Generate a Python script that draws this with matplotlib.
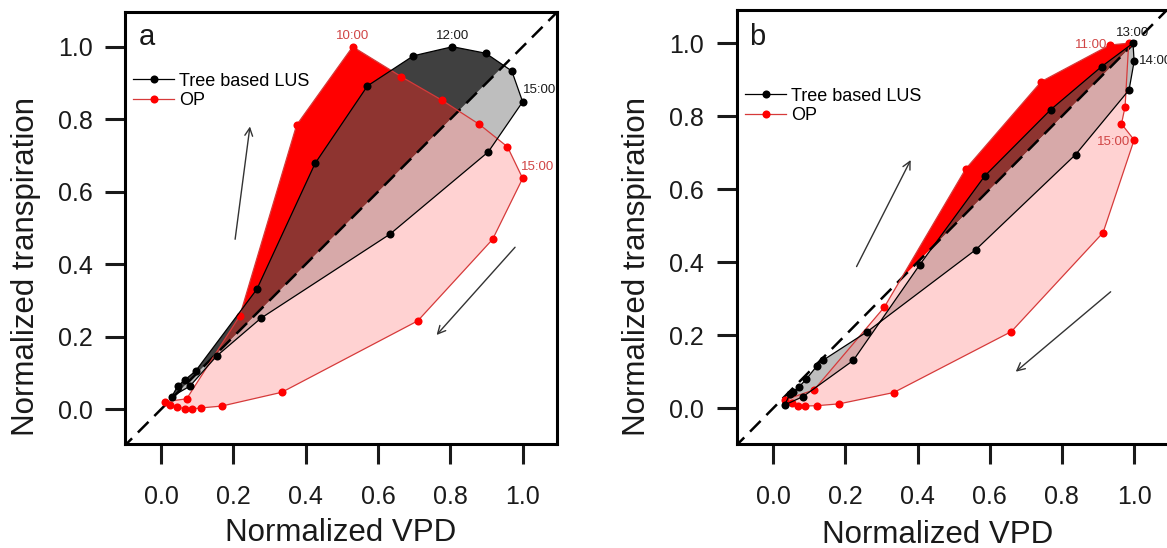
import matplotlib
matplotlib.use('Agg')
import matplotlib.pyplot as plt
import numpy as np
from matplotlib.patches import Polygon
from matplotlib.lines import Line2D

plt.rcParams['font.family'] = ['Liberation Sans', 'DejaVu Sans']


# ------------------------------------ Data ------------------------------------

# Panel a - daily loops (hourly), normalized VPD vs normalized transpiration
a_lus_vpd = [0.030, 0.046, 0.066, 0.096, 0.265, 0.426, 0.571, 0.698, 0.806,
             0.898, 0.970, 1.000, 0.905, 0.633, 0.276, 0.154, 0.080]
a_lus_tr = [0.035, 0.064, 0.081, 0.106, 0.331, 0.678, 0.892, 0.975, 1.000,
            0.982, 0.933, 0.848, 0.710, 0.483, 0.251, 0.147, 0.064]

a_op_vpd = [0.011, 0.071, 0.218, 0.375, 0.530, 0.665, 0.776, 0.880, 0.958, 1.000,
            0.917, 0.710, 0.334, 0.168, 0.112, 0.085, 0.066, 0.043, 0.025]
a_op_tr = [0.021, 0.029, 0.258, 0.784, 1.000, 0.917, 0.853, 0.786, 0.724, 0.637,
           0.469, 0.244, 0.047, 0.009, 0.004, 0.001, 0.002, 0.006, 0.012]

# Panel b
b_lus_vpd = [0.032, 0.083, 0.222, 0.406, 0.586, 0.769, 0.910, 0.997, 1.000, 0.986,
             0.838, 0.561, 0.261, 0.139, 0.122, 0.092, 0.072, 0.055, 0.046]
b_lus_tr = [0.009, 0.032, 0.131, 0.393, 0.636, 0.818, 0.936, 1.000, 0.950, 0.872,
            0.695, 0.434, 0.210, 0.132, 0.117, 0.080, 0.059, 0.044, 0.038]

b_op_vpd = [0.032, 0.113, 0.308, 0.533, 0.743, 0.933, 0.985, 0.975, 0.965, 1.000,
            0.914, 0.660, 0.334, 0.183, 0.122, 0.088, 0.069, 0.051]
b_op_tr = [0.023, 0.050, 0.277, 0.655, 0.895, 0.995, 1.000, 0.826, 0.779, 0.735,
           0.481, 0.210, 0.043, 0.012, 0.007, 0.006, 0.007, 0.014]

ticks = [0.0, 0.2, 0.4, 0.6, 0.8, 1.0]
tick_labels = ['0.0', '0.2', '0.4', '0.6', '0.8', '1.0']


# ----------------------------------- Colours -----------------------------------

RED = '#FF0000'
RED_LINE = '#D63A3A'
PINK = '#FFD2D2'
DGRAY = '#404040'
LGRAY = '#BEBEBE'
BROWN = '#8E3430'
PINKGRAY = '#D7A9A9'
TXT = '#1a1a1a'


# split a loop polygon into the part above (upper) or below the 1:1 line
def half_plane(xs, ys, upper):
    pts = list(zip(xs, ys))
    side = (lambda p: p[1] - p[0]) if upper else (lambda p: p[0] - p[1])
    out = []
    for i in range(len(pts)):
        p, q = pts[i], pts[(i + 1) % len(pts)]
        sp, sq = side(p), side(q)
        if sp >= 0:
            out.append(p)
        if sp * sq < 0:
            t = sp / (sp - sq)
            out.append((p[0] + t * (q[0] - p[0]), p[1] + t * (q[1] - p[1])))
    return np.array(out)


def draw_panel(ax, lus_x, lus_y, op_x, op_y, xlim, ylim):
    ax.set_xlim(*xlim)
    ax.set_ylim(*ylim)

    # filled loops, dark above the 1:1 line and light below it
    op_up, op_lo = half_plane(op_x, op_y, True), half_plane(op_x, op_y, False)
    lus_up, lus_lo = half_plane(lus_x, lus_y, True), half_plane(lus_x, lus_y, False)
    op_pts = np.column_stack([op_x, op_y])

    ax.fill(op_lo[:, 0], op_lo[:, 1], color=PINK, lw=0, zorder=1)
    ax.fill(lus_lo[:, 0], lus_lo[:, 1], color=LGRAY, lw=0, zorder=1)
    over = ax.fill(lus_lo[:, 0], lus_lo[:, 1], color=PINKGRAY, lw=0, zorder=1.1)[0]
    over.set_clip_path(Polygon(op_pts, closed=True, transform=ax.transData))

    ax.fill(op_up[:, 0], op_up[:, 1], color=RED, lw=0, zorder=1)
    ax.fill(lus_up[:, 0], lus_up[:, 1], color=DGRAY, lw=0, zorder=1)
    over = ax.fill(lus_up[:, 0], lus_up[:, 1], color=BROWN, lw=0, zorder=1.1)[0]
    over.set_clip_path(Polygon(op_pts, closed=True, transform=ax.transData))

    # 1:1 line
    ax.plot([-0.2, 1.2], [-0.2, 1.2], color='black', lw=1.8, dashes=(6, 3.3), zorder=2)

    # loop outlines and hourly points
    ax.plot(op_x + op_x[:1], op_y + op_y[:1], color=RED_LINE, lw=0.9, zorder=3)
    ax.plot(op_x, op_y, 'o', color=RED, ms=5.8, mec='none', zorder=4)
    ax.plot(lus_x + lus_x[:1], lus_y + lus_y[:1], color='black', lw=0.9, zorder=5)
    ax.plot(lus_x, lus_y, 'o', color='black', ms=5.8, mec='none', zorder=6)

    ax.set_xticks(ticks)
    ax.set_xticklabels(tick_labels)
    ax.set_yticks(ticks)
    ax.set_yticklabels(tick_labels)
    ax.tick_params(length=14.4, width=2.2, labelsize=18, colors=TXT)
    ax.tick_params(axis='x', pad=15)
    ax.tick_params(axis='y', pad=9)
    for sp in ax.spines.values():
        sp.set_linewidth(2.2)

    ax.set_xlabel('Normalized VPD', fontsize=22.5, color=TXT, va='center')
    ax.set_ylabel('Normalized transpiration', fontsize=22.5, color=TXT, va='center')


def add_legend(ax, x0, y0):
    handles = [Line2D([], [], color='black', lw=0.9, marker='o', ms=5.8, mec='none'),
               Line2D([], [], color=RED_LINE, lw=0.9, marker='o', ms=5.8,
                      mfc=RED, mec='none')]
    ax.legend(handles, ['Tree based LUS', 'OP'], loc='upper left',
              bbox_to_anchor=(x0, y0), frameon=False, fontsize=13,
              handlelength=2.3, handletextpad=0.25, labelspacing=0.12,
              borderaxespad=0, borderpad=0)


# ----------------------------------- Figure -----------------------------------

fig = plt.figure(figsize=(11.67, 5.48), dpi=100)
ax_a = fig.add_axes([0.1071, 0.1892, 0.3699, 0.7894])
ax_b = fig.add_axes([0.6313, 0.1898, 0.3699, 0.7920])

draw_panel(ax_a, a_lus_vpd, a_lus_tr, a_op_vpd, a_op_tr, (-0.0995, 1.094), (-0.0965, 1.0965))
draw_panel(ax_b, b_lus_vpd, b_lus_tr, b_op_vpd, b_op_tr, (-0.101, 1.095), (-0.098, 1.091))

ax_a.xaxis.set_label_coords(0.5, -0.205)
ax_a.yaxis.set_label_coords(-0.229, 0.412)
ax_b.xaxis.set_label_coords(0.466, -0.21)
ax_b.yaxis.set_label_coords(-0.231, 0.41)

add_legend(ax_a, 0.0185, 0.859)
add_legend(ax_b, 0.019, 0.821)

ax_a.text(0.032, 0.923, 'a', transform=ax_a.transAxes, fontsize=21, color=TXT, va='baseline')
ax_b.text(0.029, 0.919, 'b', transform=ax_b.transAxes, fontsize=21, color=TXT, va='baseline')

# hour labels next to their points
LBL_RED = '#D04545'
ax_a.text(a_op_vpd[4], a_op_tr[4] + 0.03, '10:00', color=LBL_RED, fontsize=9.5, ha='center', va='center')
ax_a.text(a_lus_vpd[8], a_lus_tr[8] + 0.03, '12:00', color=TXT, fontsize=9.5, ha='center', va='center')
ax_a.text(a_lus_vpd[11] + 0.002, a_lus_tr[11] + 0.034, '15:00', color=TXT, fontsize=9.5, ha='left', va='center')
ax_a.text(a_op_vpd[9] - 0.006, a_op_tr[9] + 0.032, '15:00', color=LBL_RED, fontsize=9.5, ha='left', va='center')

ax_b.text(b_lus_vpd[7], b_lus_tr[7] + 0.028, '13:00', color=TXT, fontsize=9.5, ha='center', va='center')
ax_b.text(b_lus_vpd[8] + 0.013, b_lus_tr[8], '14:00', color=TXT, fontsize=9.5, ha='left', va='center')
ax_b.text(b_op_vpd[5] - 0.008, b_op_tr[5], '11:00', color=LBL_RED, fontsize=9.5, ha='right', va='center')
ax_b.text(b_op_vpd[9] - 0.012, b_op_tr[9] - 0.005, '15:00', color=LBL_RED, fontsize=9.5, ha='right', va='center')

# direction of the daily course
arrow = dict(arrowstyle='->', lw=1.0, color='#333333', shrinkA=0, shrinkB=0, mutation_scale=14)
ax_a.annotate('', xy=(0.246, 0.780), xytext=(0.205, 0.469), arrowprops=arrow)
ax_a.annotate('', xy=(0.762, 0.205), xytext=(0.979, 0.447), arrowprops=arrow)
ax_b.annotate('', xy=(0.381, 0.680), xytext=(0.231, 0.388), arrowprops=arrow)
ax_b.annotate('', xy=(0.672, 0.100), xytext=(0.935, 0.319), arrowprops=arrow)

fig.savefig('out.png', dpi=100)
